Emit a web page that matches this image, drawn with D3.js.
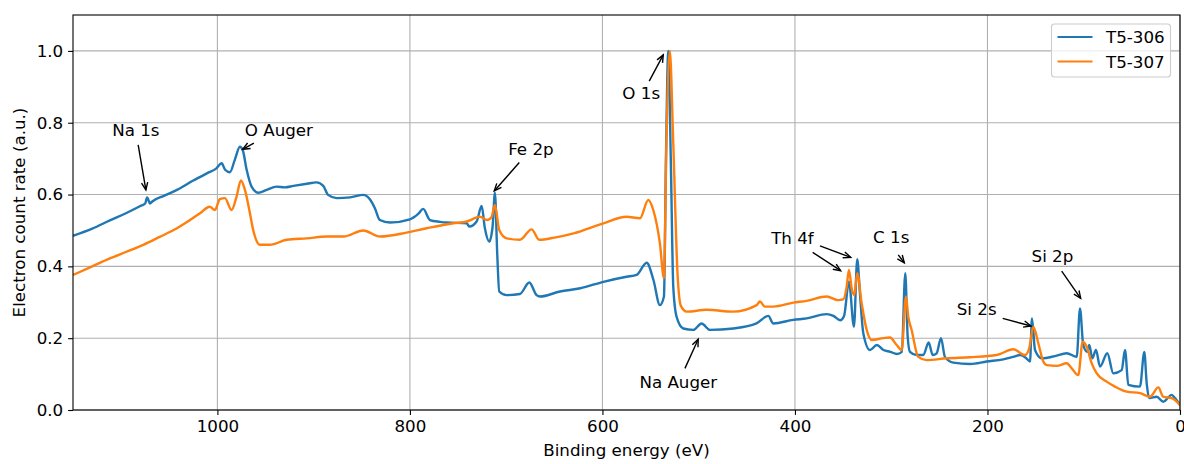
<!DOCTYPE html>
<html>
<head>
<meta charset="utf-8">
<script src="https://cdn.jsdelivr.net/npm/d3@7"></script>
<style>
  html, body { margin: 0; padding: 0; background: #fff; }
  svg { display: block; font-family: "DejaVu Sans", sans-serif; }
</style>
</head>
<body>
<svg id="chart" width="1184" height="464"></svg>
<script>
// XPS survey spectra, [binding energy (eV), normalised count rate]
const t5_306 = [
  [1150,0.485],[1130,0.505],[1111.7,0.528],[1095,0.548],[1080,0.568],[1075,0.575],[1073,0.592],[1070,0.575],
  [1068,0.58],[1055,0.597],[1042,0.613],[1025,0.639],[1011,0.659],[1001,0.673],[995.6,0.687],[992,0.669],
  [987,0.662],[982,0.696],[976.6,0.733],[973.7,0.724],[969.6,0.669],[964.5,0.622],[957.6,0.605],[948.9,0.613],
  [938.5,0.622],[930,0.62],[921,0.624],[907,0.63],[897,0.634],[890,0.624],[885,0.599],[876,0.59],[862,0.592],
  [848.5,0.599],[841.6,0.587],[836.4,0.562],[831.2,0.529],[820.8,0.522],[800,0.531],[791.4,0.546],[786.2,0.56],
  [779.2,0.529],[768.8,0.524],[762,0.522],[741,0.52],[738.4,0.511],[730.7,0.525],[725.5,0.568],[722.1,0.506],
  [717.6,0.469],[714.1,0.511],[711.7,0.605],[709.3,0.436],[707.2,0.33],[699.5,0.32],[685.7,0.323],[676,0.355],
  [668.4,0.32],[665,0.316],[644,0.33],[623,0.339],[599,0.357],[575,0.371],[564.5,0.376],[554,0.41],[547,0.362],
  [540.3,0.292],[536.1,0.316],[534,0.7],[531.6,1.0],[529,0.7],[526.4,0.343],[523,0.26],[516,0.227],[505.6,0.223],
  [497,0.241],[488.3,0.223],[464,0.227],[440,0.241],[427.7,0.262],[422.5,0.241],[401.8,0.251],[387.8,0.255],
  [367,0.267],[360,0.262],[353,0.25],[349,0.262],[343.9,0.357],[338.7,0.232],[335.3,0.42],[332.5,0.325],
  [329,0.214],[322,0.167],[315,0.181],[308,0.167],[301,0.162],[294,0.156],[289,0.162],[285.4,0.381],[282.9,0.204],
  [280.5,0.162],[273.6,0.153],[266.7,0.153],[261.1,0.188],[256.9,0.153],[252.8,0.158],[248.3,0.2],[244.2,0.148],
  [235.5,0.132],[218,0.128],[200.8,0.135],[183.6,0.141],[173.2,0.148],[166,0.153],[160,0.145],[155.8,0.135],
  [153.8,0.255],[150.6,0.167],[143.7,0.144],[130,0.15],[117.7,0.158],[107.3,0.148],[103.9,0.283],[100.5,0.181],
  [96.3,0.162],[94.2,0.181],[91.1,0.144],[87.3,0.167],[83.1,0.121],[75.5,0.158],[69.3,0.102],[60.6,0.111],
  [57.1,0.167],[53.7,0.07],[41.6,0.065],[37.1,0.162],[34.6,0.074],[31.9,0.033],[24.2,0.037],[17.4,0.023],
  [8.6,0.042],[5.2,0.033],[0,0.014]
];

const t5_307 = [
  [1150,0.376],[1130,0.4],[1111.7,0.422],[1095,0.44],[1077,0.46],[1060,0.482],[1042,0.506],[1030,0.526],
  [1018,0.548],[1008,0.566],[1002.6,0.557],[997.4,0.587],[992.2,0.59],[985.3,0.557],[980.1,0.594],[975.6,0.639],
  [971.4,0.613],[966.2,0.548],[962.8,0.501],[955.8,0.46],[945.5,0.46],[928,0.474],[907,0.478],[886.5,0.483],
  [869,0.483],[848.5,0.5],[831,0.483],[803.4,0.494],[782.6,0.506],[755,0.52],[741,0.525],[727.3,0.538],
  [719.7,0.529],[715.1,0.538],[711.7,0.571],[707.2,0.501],[699.5,0.478],[685.7,0.474],[673.6,0.503],[665.7,0.474],
  [650,0.48],[630,0.492],[599,0.52],[575,0.538],[561,0.534],[552.4,0.585],[547.2,0.557],[540.3,0.464],
  [536.1,0.367],[533.5,0.75],[530,1.0],[526.5,0.75],[522,0.38],[518.5,0.29],[512.5,0.274],[491.7,0.279],
  [464,0.274],[439.8,0.292],[436.4,0.302],[431.2,0.288],[422.5,0.288],[401.8,0.299],[387.8,0.304],[367,0.316],
  [355,0.306],[349.8,0.308],[346.3,0.343],[343.9,0.39],[341.1,0.339],[338.4,0.32],[335.3,0.381],[330.7,0.297],
  [325.5,0.223],[320.3,0.195],[308.3,0.2],[301.3,0.202],[294.3,0.181],[289.1,0.167],[284.7,0.316],[282.3,0.26],
  [278.8,0.223],[271.9,0.148],[263.2,0.139],[242.4,0.144],[218.2,0.147],[190.4,0.153],[173.2,0.169],[161,0.153],
  [156.6,0.172],[152.4,0.232],[147.2,0.186],[142,0.135],[138.5,0.125],[128,0.123],[117.7,0.13],[112.5,0.116],
  [105.7,0.097],[101.1,0.19],[96.9,0.176],[91.7,0.13],[86.5,0.102],[76.2,0.079],[67.5,0.065],[55.4,0.051],
  [41.6,0.047],[31.2,0.037],[22.5,0.063],[17.4,0.037],[8.6,0.033],[0,0.014]
];

const seriesNames = ["T5-306", "T5-307"];
const seriesColors = ["#1f77b4", "#ff7f0e"];

const xTicks = [1000, 800, 600, 400, 200, 0];
const yTicks = [0.0, 0.2, 0.4, 0.6, 0.8, 1.0];

// Peak labels: text position and arrow(s) from -> to, all in data units
const peakLabels = [
  { text: "Na 1s",    at: [1084.7, 0.780], arrows: [[[1082.3, 0.738], [1074.3, 0.613]]] },
  { text: "O Auger",  at: [936.1, 0.780],  arrows: [[[962.1, 0.743], [973.8, 0.726]]] },
  { text: "Fe 2p",    at: [674.3, 0.728],  arrows: [[[686.4, 0.689], [712.4, 0.610]]] },
  { text: "O 1s",     at: [559.7, 0.883],  arrows: [[[551.4, 0.916], [536.8, 0.989]]] },
  { text: "Na Auger", at: [521.2, 0.079],  arrows: [[[514.3, 0.116], [500.5, 0.197]]] },
  { text: "Th 4f",    at: [402.6, 0.480],  arrows: [[[381.6, 0.439], [352.5, 0.388]], [[374.0, 0.457], [342.1, 0.425]]] },
  { text: "C 1s",     at: [300.0, 0.481],  arrows: [[[292.7, 0.432], [286.4, 0.410]]] },
  { text: "Si 2s",    at: [211.2, 0.280],  arrows: [[[184.2, 0.255], [154.8, 0.234]]] },
  { text: "Si 2p",    at: [132.5, 0.430],  arrows: [[[122.9, 0.387], [103.2, 0.311]]] }
];

const W = 1184, H = 464;
const margin = { left: 73, right: 4, top: 15, bottom: 54 };
const iw = W - margin.left - margin.right;
const ih = H - margin.top - margin.bottom;
const fontSize = 16.7;

const svg = d3.select("#chart");
const g = svg.append("g").attr("transform", `translate(${margin.left},${margin.top})`);

const x = d3.scaleLinear().domain([1150, 0]).range([0, iw]);
const y = d3.scaleLinear().domain([0, 1.1]).range([ih, 0]);

// grid
g.append("g").selectAll("line").data(xTicks).join("line")
  .attr("x1", d => x(d)).attr("x2", d => x(d)).attr("y1", 0).attr("y2", ih)
  .attr("stroke", "#b0b0b0").attr("stroke-width", 1.1);
g.append("g").selectAll("line").data(yTicks).join("line")
  .attr("x1", 0).attr("x2", iw).attr("y1", d => y(d)).attr("y2", d => y(d))
  .attr("stroke", "#b0b0b0").attr("stroke-width", 1.1);

// spectra
const clip = g.append("clipPath").attr("id", "plotclip");
clip.append("rect").attr("x", 0).attr("y", 0).attr("width", iw).attr("height", ih);
const line = d3.line().x(d => x(d[0])).y(d => y(d[1])).curve(d3.curveMonotoneX);
[t5_306, t5_307].forEach((s, i) => {
  g.append("path").datum(s)
    .attr("clip-path", "url(#plotclip)")
    .attr("fill", "none")
    .attr("stroke", seriesColors[i])
    .attr("stroke-width", 2.4)
    .attr("stroke-linejoin", "round")
    .attr("d", line);
});

// axes
const xAxis = g.append("g").attr("transform", `translate(0,${ih})`)
  .call(d3.axisBottom(x).tickValues(xTicks).tickFormat(d3.format("d")).tickSize(4.9).tickPadding(5.5));
const yAxis = g.append("g")
  .call(d3.axisLeft(y).tickValues(yTicks).tickFormat(d3.format(".1f")).tickSize(4.9).tickPadding(4.9));
[xAxis, yAxis].forEach(a => {
  a.select(".domain").remove();
  a.selectAll(".tick line").attr("stroke", "#000").attr("stroke-width", 1.1);
  a.selectAll(".tick text").attr("fill", "#000").attr("font-size", fontSize).attr("font-family", "DejaVu Sans");
});

// frame
g.append("rect").attr("x", 0).attr("y", 0).attr("width", iw).attr("height", ih)
  .attr("fill", "none").attr("stroke", "#000").attr("stroke-width", 1.1);

// axis labels
svg.append("text").attr("x", margin.left + iw / 2).attr("y", 456)
  .attr("text-anchor", "middle").attr("font-size", fontSize).attr("fill", "#000")
  .text("Binding energy (eV)");
svg.append("text")
  .attr("transform", `translate(25,${margin.top + ih / 2}) rotate(-90)`)
  .attr("text-anchor", "middle").attr("font-size", fontSize).attr("fill", "#000")
  .text("Electron count rate (a.u.)");

// peak annotations
function arrowHead(x1, y1, x2, y2) {
  const ang = Math.atan2(y2 - y1, x2 - x1);
  const len = 8, half = 0.4;
  const a1 = ang + Math.PI - half, a2 = ang + Math.PI + half;
  return `M${x2 + len * Math.cos(a1)},${y2 + len * Math.sin(a1)}L${x2},${y2}L${x2 + len * Math.cos(a2)},${y2 + len * Math.sin(a2)}`;
}
const ann = g.append("g");
peakLabels.forEach(p => {
  ann.append("text").attr("x", x(p.at[0])).attr("y", y(p.at[1])).attr("dy", "0.36em")
    .attr("text-anchor", "middle").attr("font-size", fontSize).attr("fill", "#000").text(p.text);
  p.arrows.forEach(([from, to]) => {
    const x1 = x(from[0]), y1 = y(from[1]), x2 = x(to[0]), y2 = y(to[1]);
    ann.append("path").attr("d", `M${x1},${y1}L${x2},${y2}`)
      .attr("stroke", "#000").attr("stroke-width", 1.4).attr("fill", "none");
    ann.append("path").attr("d", arrowHead(x1, y1, x2, y2))
      .attr("stroke", "#000").attr("stroke-width", 1.4).attr("fill", "none");
  });
});

// legend
const lg = svg.append("g").attr("transform", "translate(1051.5,24)");
lg.append("rect").attr("width", 119).attr("height", 53).attr("rx", 3)
  .attr("fill", "#fff").attr("fill-opacity", 0.8).attr("stroke", "#cccccc").attr("stroke-width", 1.1);
seriesNames.forEach((n, i) => {
  const yy = 13 + i * 24.5;
  lg.append("line").attr("x1", 6).attr("x2", 41).attr("y1", yy).attr("y2", yy)
    .attr("stroke", seriesColors[i]).attr("stroke-width", 2.1);
  lg.append("text").attr("x", 54.5).attr("y", yy).attr("dy", "0.36em")
    .attr("font-size", fontSize).attr("fill", "#000").text(n);
});
</script>
</body>
</html>
